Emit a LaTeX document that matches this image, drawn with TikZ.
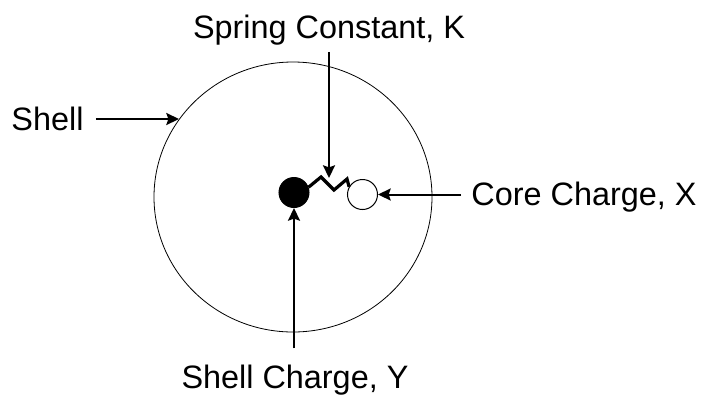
\documentclass[tikz,border=0pt]{standalone}
\usepackage{fontspec}
\setmainfont{Liberation Sans}
\usetikzlibrary{arrows.meta}

\begin{document}
\begin{tikzpicture}[x=0.75pt, y=-0.75pt,
    etiqueta/.style={inner sep=0pt, font=\fontsize{24.3}{29}\selectfont},
    flecha/.style={-{Stealth[length=9.5pt, width=9pt, inset=1.5pt]}, line width=1.5pt},
    carga/.style={circle, draw=black, line width=0.75pt, minimum size=22.5pt, inner sep=0pt}]
    \useasboundingbox (0,0) rectangle (701,394);

    % Capa (shell)
    \draw[line width=0.6pt] (293,197) ellipse [x radius=139, y radius=135];

    % Cargas
    \node[carga, fill=black] (shellq) at (294,192.5) {};
    \node[carga, fill=white] (coreq) at (362.5,194.5) {};

    % Resorte
    \draw[line width=2.4pt, line join=miter] (shellq.20) -- (321,177) -- (334,190) -- (347,179) -- (coreq.150);

    % Coordenadas
    \coordinate (shellpt) at (179,119);
    \coordinate (springpt) at (329,178);

    % Etiquetas
    \node[etiqueta, anchor=base] (shell) at (47.5,130.5) {Shell};
    \node[etiqueta, anchor=base] (spring) at (329,38) {Spring Constant, K};
    \node[etiqueta, anchor=base] (core) at (584,205) {Core Charge, X};
    \node[etiqueta, anchor=base] (shellchg) at (295,388) {Shell Charge, Y};

    % Flechas
    \draw[flecha, shorten <=12pt*0.75] (shell.east |- shellpt) -- (shellpt);
    \draw[flecha, shorten <=7pt*0.75] (spring.south -| springpt) -- (springpt);
    \draw[flecha, shorten <=10pt*0.75] (core.west |- coreq.east) -- (coreq.east);
    \draw[flecha, shorten <=16pt*0.75] (shellchg.north -| shellq.south) -- (shellq.south);
\end{tikzpicture}
\end{document}
